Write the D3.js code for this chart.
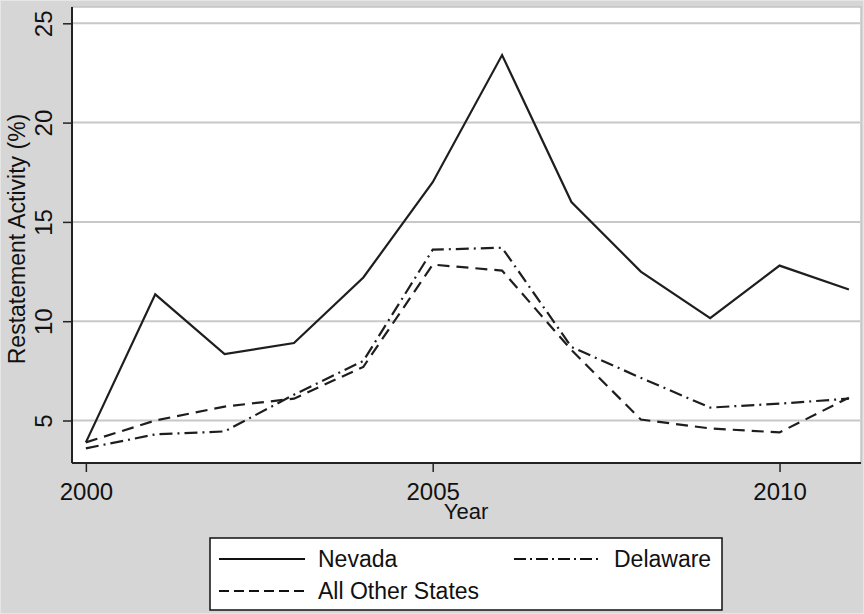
<!DOCTYPE html>
<html>
    <head>
        <script type="text/javascript" src="https://cdn.jsdelivr.net/npm/d3@7"></script>
        <style type="text/css">
            body { margin: 0; background: #d6d6d6; }
            text {
                font-family: "Liberation Sans", Arial, sans-serif;
                fill: #111;
            }
        </style>
    </head>
    <body>
        <script type="text/javascript">

            // data
            var years = [2000, 2001, 2002, 2003, 2004, 2005, 2006, 2007, 2008, 2009, 2010, 2011];
            var nevada = [3.9, 11.35, 8.35, 8.9, 12.2, 17.0, 23.4, 16.0, 12.5, 10.15, 12.8, 11.6];
            var delaware = [3.6, 4.3, 4.45, 6.3, 8.0, 13.6, 13.7, 8.7, 7.15, 5.65, 5.85, 6.1];
            var otherStates = [3.9, 5.0, 5.7, 6.1, 7.7, 12.85, 12.55, 8.55, 5.05, 4.6, 4.4, 6.15];
            var xTicks = [2000, 2005, 2010];
            var yTicks = [5, 10, 15, 20, 25];

            var w = 864;
            var h = 614;

            // plot region (window.top is taken, so p-prefixed names)
            var pLeft = 72, pRight = 860, pTop = 9, pBottom = 463;

            var x = d3.scaleLinear()
                      .domain([1999.8, 2011.16])
                      .range([pLeft, pRight]);

            var y = d3.scaleLinear()
                      .domain([2.86, 25.72])
                      .range([pBottom, pTop]);

            var svg = d3.select("body")
                        .append("svg")
                        .attr("width", w)
                        .attr("height", h);

            // background + thin outer frame
            svg.append("rect")
               .attr("x", 0.5).attr("y", 0.5)
               .attr("width", w - 1).attr("height", h - 1)
               .attr("fill", "#d6d6d6")
               .attr("stroke", "#e6e6e6");

            // plot area
            svg.append("rect")
               .attr("x", pLeft).attr("y", pTop - 2)
               .attr("width", pRight - pLeft + 1).attr("height", pBottom - pTop + 2)
               .attr("fill", "white")
               .attr("stroke", "#c4c4c4")
               .attr("stroke-width", 1.5);

            // gridlines
            svg.append("g")
               .selectAll("line")
               .data(yTicks)
               .enter()
               .append("line")
               .attr("x1", pLeft).attr("x2", pRight)
               .attr("y1", function(d) { return y(d); })
               .attr("y2", function(d) { return y(d); })
               .attr("stroke", "#c8c8c8")
               .attr("stroke-width", 2);

            // y axis
            var yAxis = d3.axisLeft(y).tickValues(yTicks).tickSize(9).tickPadding(0);
            var gy = svg.append("g")
                        .attr("transform", "translate(" + pLeft + ",0)")
                        .call(yAxis);
            gy.select(".domain").remove();
            gy.selectAll(".tick line").attr("stroke", "#222").attr("stroke-width", 1.5);
            gy.selectAll(".tick text")
              .attr("x", null).attr("dy", null)
              .attr("transform", "translate(-20,0) rotate(-90)")
              .attr("text-anchor", "middle")
              .style("font-size", "24px")
              .style("font-family", "'Liberation Sans', Arial, sans-serif")
              .attr("fill", "#111");

            // x axis
            var xAxis = d3.axisBottom(x).tickValues(xTicks).tickFormat(d3.format("d")).tickSize(9).tickPadding(0);
            var gx = svg.append("g")
                        .attr("transform", "translate(0," + pBottom + ")")
                        .call(xAxis);
            gx.select(".domain").remove();
            gx.selectAll(".tick line").attr("stroke", "#222").attr("stroke-width", 1.5);
            gx.selectAll(".tick text")
              .attr("y", 37).attr("dy", null)
              .style("font-size", "24px")
              .style("font-family", "'Liberation Sans', Arial, sans-serif")
              .attr("fill", "#111");

            // axis lines
            svg.append("line")
               .attr("x1", pLeft).attr("x2", pLeft)
               .attr("y1", pTop - 2).attr("y2", pBottom)
               .attr("stroke", "#222").attr("stroke-width", 2);
            svg.append("line")
               .attr("x1", pLeft).attr("x2", pRight + 1)
               .attr("y1", pBottom).attr("y2", pBottom)
               .attr("stroke", "#222").attr("stroke-width", 2);

            // titles
            svg.append("text")
               .attr("x", (pLeft + pRight) / 2)
               .attr("y", 519)
               .attr("text-anchor", "middle")
               .style("font-size", "22px")
               .text("Year");

            svg.append("text")
               .attr("transform", "translate(25," + ((pTop + pBottom) / 2 + 3) + ") rotate(-90)")
               .attr("text-anchor", "middle")
               .style("font-size", "23px")
               .text("Restatement Activity (%)");

            // series lines
            var series = [
                { name: "Nevada", values: nevada, dash: null },
                { name: "Delaware", values: delaware, dash: "13,5,2,5" },
                { name: "All Other States", values: otherStates, dash: "12,7" }
            ];

            var line = d3.line()
                         .x(function(d, i) { return x(years[i]); })
                         .y(function(d) { return y(d); });

            svg.append("g")
               .selectAll("path")
               .data(series)
               .enter()
               .append("path")
               .attr("d", function(d) { return line(d.values); })
               .attr("fill", "none")
               .attr("stroke", "#1e1e1e")
               .attr("stroke-width", 2.2)
               .attr("stroke-dasharray", function(d) { return d.dash; });

            // legend
            var legend = svg.append("g");
            legend.append("rect")
                  .attr("x", 210).attr("y", 538)
                  .attr("width", 512).attr("height", 72)
                  .attr("fill", "white")
                  .attr("stroke", "#111")
                  .attr("stroke-width", 1.5);

            var legendPos = [
                { x: 219, y: 559 },
                { x: 514, y: 559 },
                { x: 219, y: 591 }
            ];

            var items = legend.selectAll("g.item")
                              .data(series)
                              .enter()
                              .append("g")
                              .attr("class", "item")
                              .attr("transform", function(d, i) {
                                  return "translate(" + legendPos[i].x + "," + legendPos[i].y + ")";
                              });

            items.append("line")
                 .attr("x1", 0).attr("x2", 86)
                 .attr("y1", 0).attr("y2", 0)
                 .attr("stroke", "#111")
                 .attr("stroke-width", 2.2)
                 .attr("stroke-dasharray", function(d) { return d.name == "Delaware" ? "12,4,2,4" : (d.dash ? "10,5" : null); });

            items.append("text")
                 .attr("x", function(d) { return d.name == "Delaware" ? 100 : 99; })
                 .attr("y", 8)
                 .style("font-size", "23px")
                 .text(function(d) { return d.name; });

        </script>
    </body>
</html>
